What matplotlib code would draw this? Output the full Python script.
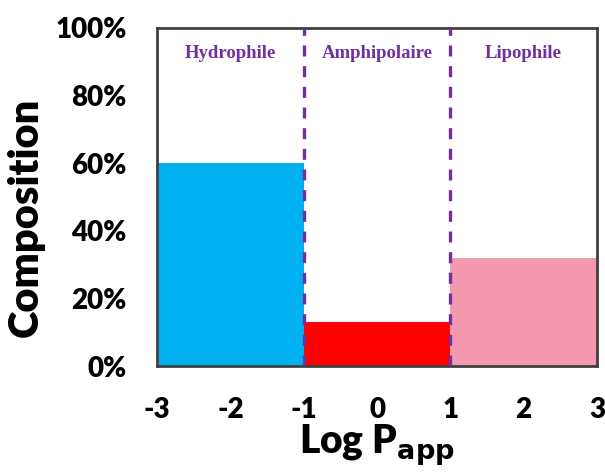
import matplotlib
matplotlib.use("Agg")
import matplotlib.pyplot as plt
from matplotlib.ticker import PercentFormatter

# data
edges = [-3, -1, 1]
widths = [2, 2, 2]
composition = [0.60, 0.13, 0.32]
colors = ["#00B0F0", "#FF0000", "#F599B0"]
zones = ["Hydrophile", "Amphipolaire", "Lipophile"]
zone_centers = [-2, 0, 2]
boundaries = [-1, 1]
xticks = [-3, -2, -1, 0, 1, 2, 3]

plt.rcParams["font.family"] = ["Lato", "DejaVu Sans"]

fig = plt.figure(figsize=(6.05, 4.73), dpi=100)
ax = fig.add_axes([157 / 605, 1 - 366 / 473, 440 / 605, 338 / 473])

ax.bar(edges, composition, width=widths, align="edge", color=colors,
       edgecolor="none", zorder=2)

for b in boundaries:
    ax.axvline(b, color="#7030A0", lw=2.4, ls=(0, (3.3, 2.9)), zorder=3)

for name, xc in zip(zones, zone_centers):
    ax.text(xc, 0.925, name, ha="center", va="center", color="#7030A0",
            fontsize=13.5, fontweight="bold", family="Liberation Serif")

ax.set_xlim(-3, 3)
ax.set_ylim(0, 1)
ax.set_xticks(xticks)
ax.set_xticklabels([str(t) for t in xticks])
ax.set_yticks([0, 0.2, 0.4, 0.6, 0.8, 1.0])
ax.yaxis.set_major_formatter(PercentFormatter(1.0, decimals=0))
ax.tick_params(axis="y", length=0, labelsize=20, pad=22)
ax.tick_params(axis="x", length=0, labelsize=20, pad=22)
for lab in ax.get_xticklabels() + ax.get_yticklabels():
    lab.set_fontweight("heavy")

for s in ax.spines.values():
    s.set_color("#404040")
    s.set_linewidth(2)

ax.set_ylabel("Composition", fontsize=30, fontweight="heavy")
ax.yaxis.set_label_coords(-0.255, 0.44)
ax.set_xlabel(r"Log P$_{\mathbf{app}}$", fontsize=28, fontweight="heavy", labelpad=0)

fig.savefig("out.png", dpi=100)
